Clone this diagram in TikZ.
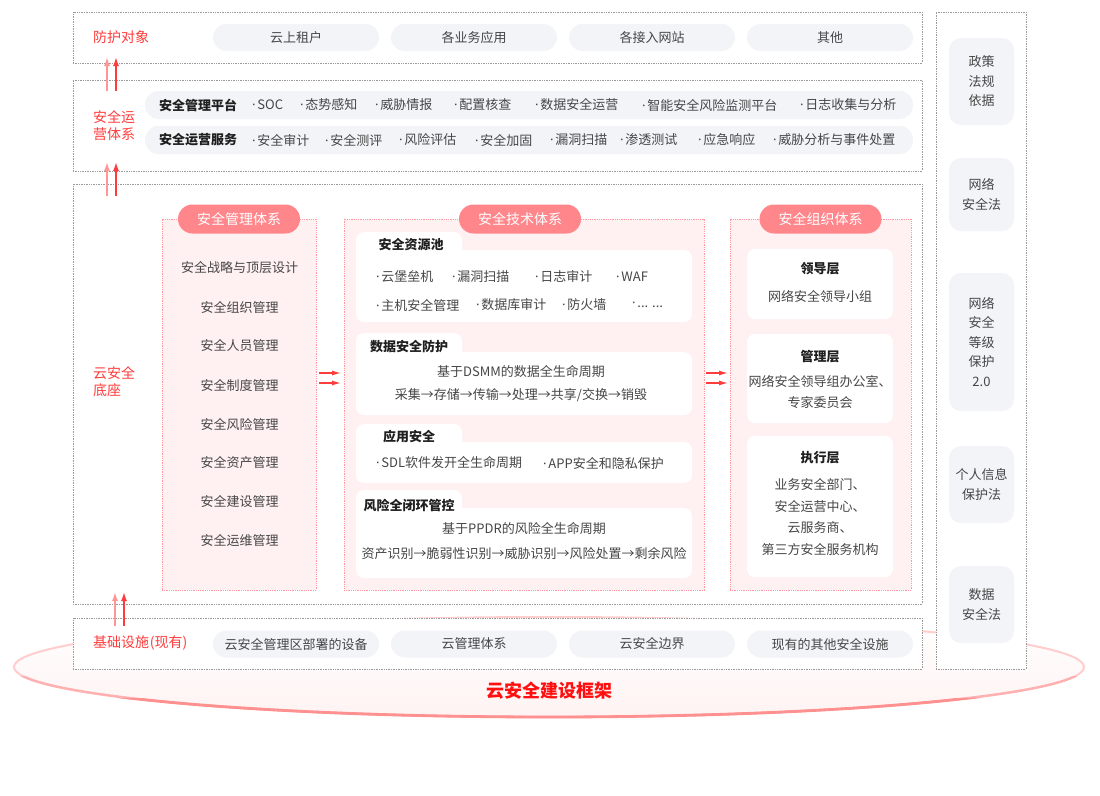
\documentclass[tikz,border=0pt]{standalone}
\usepackage{fontspec}
\setmainfont{Noto Sans CJK SC}
\newfontfamily\dotfont{Noto Sans}
\newcommand\itemdot{{\dotfont ·}\kern2pt}
\usetikzlibrary{calc,positioning,arrows.meta}
\definecolor{pillgray}{HTML}{F3F4F8}
\definecolor{itemgray}{HTML}{464646}
\definecolor{titleblack}{HTML}{1F1F1F}
\definecolor{layerred}{HTML}{FF3D3D}
\definecolor{titlered}{HTML}{FF1010}
\definecolor{headpink}{HTML}{FF878C}
\definecolor{panelpink}{HTML}{FFF0F1}
\definecolor{panelline}{HTML}{FF98A0}
\definecolor{arrowlight}{HTML}{FF9696}
\definecolor{arrowred}{HTML}{FF3B3B}
\definecolor{framegray}{HTML}{9A9A9A}
\definecolor{rimpink}{HTML}{FF9090}
\definecolor{rimfill}{HTML}{FFF3F3}

\begin{document}
\begin{tikzpicture}[x=1pt,y=-1pt,
  every node/.style={inner sep=0pt,outer sep=0pt,align=center,text=itemgray,font=\fontsize{13}{19.5}\selectfont},
  layer/.style={draw=framegray,densely dotted,line width=0.7pt,fill=white},
  layername/.style={text=layerred,align=left,font=\fontsize{14}{17}\selectfont},
  pill/.style={fill=pillgray,rounded corners=13.5,minimum width=166,minimum height=27},
  rowpill/.style={fill=pillgray,rounded corners=13.5,minimum width=768,minimum height=28},
  panel/.style={fill=panelpink,draw=panelline,densely dotted,line width=0.8pt},
  header/.style={fill=headpink,text=white,rounded corners=14.5,minimum width=122,minimum height=29,font=\fontsize{14}{17}\selectfont},
  card/.style={fill=white,rounded corners=8},
  cardtitle/.style={text=titleblack,font=\bfseries\fontsize{13}{16}\selectfont},
  lawpill/.style={fill=pillgray,rounded corners=12,minimum width=65},
  uparrow/.style={-{Latex[length=9pt,width=6pt]},line width=1.5pt},
  sidearrow/.style={-{Latex[length=9pt,width=5pt]},line width=1.2pt,arrowred}]
\useasboundingbox (0,0) rectangle (1100,795);

% base ring
\coordinate (RimCentre) at (549,667);
\fill[top color=white,bottom color=rimfill] (RimCentre) ellipse [x radius=535,y radius=50];
\draw[rimpink!45,line width=2pt] (RimCentre) ellipse [x radius=535,y radius=50];
\begin{scope}
\clip (0,676) rectangle (1100,795);
\draw[rimpink!70,line width=2.4pt] (RimCentre) ellipse [x radius=535,y radius=50];
\end{scope}
\begin{scope}
\clip (0,698) rectangle (1100,795);
\draw[rimpink,line width=2.8pt] (RimCentre) ellipse [x radius=535,y radius=50];
\end{scope}

% protected targets
\node[layer,anchor=north west,minimum width=849,minimum height=51] (Target) at (73,12) {};
\node[layername,anchor=west] (TargetName) at (93,37) {防护对象};
\node[pill] (TargetTenant) at (296,37.5) {云上租户};
\node[pill] (TargetApps) at (474,37.5) {各业务应用};
\node[pill] (TargetSites) at (652,37.5) {各接入网站};
\node[pill] (TargetOther) at (830,37.5) {其他};

% operations
\node[layer,anchor=north west,minimum width=849,minimum height=91] (Ops) at (73,80) {};
\node[layername,anchor=west] (OpsName) at (93,126) {安全运\\营体系};
\node[rowpill,anchor=west] (OpsPlatform) at (145,105) {};
\node[rowpill,anchor=west] (OpsService) at (145,140) {};
\node[cardtitle,anchor=west] (PlatformName) at (159,105) {安全管理平台};
\node[anchor=west] (PlatSOC) at (252,105) {\itemdot SOC};
\node[anchor=west] (PlatSituation) at (300,105) {\itemdot 态势感知};
\node[anchor=west] (PlatIntel) at (375,105) {\itemdot 威胁情报};
\node[anchor=west] (PlatConfig) at (454,105) {\itemdot 配置核查};
\node[anchor=west] (PlatData) at (535,105) {\itemdot 数据安全运营};
\node[anchor=west] (PlatRisk) at (642,105) {\itemdot 智能安全风险监测平台};
\node[anchor=west] (PlatLog) at (800,105) {\itemdot 日志收集与分析};
\node[cardtitle,anchor=west] (ServiceName) at (159,140) {安全运营服务};
\node[anchor=west] (ServAudit) at (252,140) {\itemdot 安全审计};
\node[anchor=west] (ServEval) at (325,140) {\itemdot 安全测评};
\node[anchor=west] (ServRisk) at (399,140) {\itemdot 风险评估};
\node[anchor=west] (ServHarden) at (475,140) {\itemdot 安全加固};
\node[anchor=west] (ServScan) at (550,140) {\itemdot 漏洞扫描};
\node[anchor=west] (ServPentest) at (620,140) {\itemdot 渗透测试};
\node[anchor=west] (ServResponse) at (698,140) {\itemdot 应急响应};
\node[anchor=west] (ServThreat) at (773,140) {\itemdot 威胁分析与事件处置};

% cloud security base
\node[layer,anchor=north west,minimum width=849,minimum height=420] (Base) at (73,184) {};
\node[layername,anchor=west] (BaseName) at (93,382) {云安全\\底座};

\node[panel,anchor=north west,minimum width=154,minimum height=371] (Mgmt) at (162,219) {};
\node[header] (MgmtHead) at (Mgmt.north) {安全管理体系};
\node (MgmtStrategy) at (239.5,268) {安全战略与顶层设计};
\node (MgmtOrg) at (239.5,307) {安全组织管理};
\node (MgmtStaff) at (239.5,346) {安全人员管理};
\node (MgmtRules) at (239.5,385) {安全制度管理};
\node (MgmtRisk) at (239.5,424) {安全风险管理};
\node (MgmtAsset) at (239.5,463) {安全资产管理};
\node (MgmtBuild) at (239.5,502) {安全建设管理};
\node (MgmtMaint) at (239.5,541) {安全运维管理};

\node[panel,anchor=north west,minimum width=360,minimum height=371] (Tech) at (344,219) {};
\node[header] (TechHead) at ($(Tech.north)+(-4,0)$) {安全技术体系};
\node[card,anchor=north west,minimum width=106,minimum height=30] (PoolTab) at (356,232) {};
\node[card,anchor=north west,minimum width=336,minimum height=72] (Pool) at (356,250) {};
\node[cardtitle] (PoolTitle) at (411,245) {安全资源池};
\node[anchor=west] (PoolBastion) at (376,277) {\itemdot 云堡垒机};
\node[anchor=west] (PoolScan) at (452,277) {\itemdot 漏洞扫描};
\node[anchor=west] (PoolLog) at (535,277) {\itemdot 日志审计};
\node[anchor=west] (PoolWaf) at (616,277) {\itemdot WAF};
\node[anchor=west] (PoolHost) at (376,305) {\itemdot 主机安全管理};
\node[anchor=west] (PoolDb) at (476,305) {\itemdot 数据库审计};
\node[anchor=west] (PoolFirewall) at (562,305) {\itemdot 防火墙};
\node[anchor=west] (PoolMore) at (632,305) {\itemdot ... ...};

\node[card,anchor=north west,minimum width=106,minimum height=30] (DataTab) at (356,333) {};
\node[card,anchor=north west,minimum width=336,minimum height=63] (Data) at (356,352) {};
\node[cardtitle] (DataTitle) at (409,347) {数据安全防护};
\node (DataModel) at (521,372) {基于DSMM的数据全生命周期};
\node (DataFlow) at (521,395) {采集→存储→传输→处理→共享/交换→销毁};

\node[card,anchor=north west,minimum width=106,minimum height=30] (AppTab) at (356,424) {};
\node[card,anchor=north west,minimum width=336,minimum height=41] (App) at (356,442) {};
\node[cardtitle] (AppTitle) at (409,437) {应用安全};
\node[anchor=west] (AppSdl) at (376,463) {\itemdot SDL软件发开全生命周期};
\node[anchor=west] (AppPrivacy) at (543,463) {\itemdot APP安全和隐私保护};

\node[card,anchor=north west,minimum width=106,minimum height=30] (LoopTab) at (356,490) {};
\node[card,anchor=north west,minimum width=336,minimum height=70] (Loop) at (356,508) {};
\node[cardtitle] (LoopTitle) at (409,506) {风险全闭环管控};
\node (LoopModel) at (524,529) {基于PPDR的风险全生命周期};
\node (LoopFlow) at (524,554) {资产识别→脆弱性识别→威胁识别→风险处置→剩余风险};

\node[panel,anchor=north west,minimum width=181,minimum height=371] (Org) at (730,219) {};
\node[header] (OrgHead) at (Org.north) {安全组织体系};
\node[card,anchor=north west,minimum width=146,minimum height=70] (Lead) at (747,249) {};
\node[cardtitle] (LeadTitle) at (820,269) {领导层};
\node (LeadText) at (820,296) {网络安全领导小组};
\node[card,anchor=north west,minimum width=146,minimum height=89] (Manage) at (747,334) {};
\node[cardtitle] (ManageTitle) at (820,357) {管理层};
\node[font=\fontsize{13}{21}\selectfont] (ManageText) at (820,392) {网络安全领导组办公室、\\专家委员会};
\node[card,anchor=north west,minimum width=146,minimum height=141] (Exec) at (747,436) {};
\node[cardtitle] (ExecTitle) at (820,458) {执行层};
\node[font=\fontsize{13}{21.5}\selectfont] (ExecText) at (820,517) {业务安全部门、\\安全运营中心、\\云服务商、\\第三方安全服务机构};

\draw[sidearrow] ($(Mgmt.east)+(3,-31.5)$) -- ($(Tech.west)+(-3,-31.5)$);
\draw[sidearrow] ($(Mgmt.east)+(3,-21.5)$) -- ($(Tech.west)+(-3,-21.5)$);
\draw[sidearrow] ($(Tech.east)+(2,-31.5)$) -- ($(Org.west)+(-2,-31.5)$);
\draw[sidearrow] ($(Tech.east)+(2,-21.5)$) -- ($(Org.west)+(-2,-21.5)$);

% infrastructure
\node[layer,anchor=north west,minimum width=849,minimum height=51] (Infra) at (73,618) {};
\node[layername,anchor=west] (InfraName) at (93,643) {基础设施\kern1pt(现有)};
\node[pill] (InfraDevices) at (296,644) {云安全管理区部署的设备};
\node[pill] (InfraMgmt) at (474,644) {云管理体系};
\node[pill] (InfraBorder) at (652,644) {云安全边界};
\node[pill] (InfraOther) at (830,644) {现有的其他安全设施};

\node[text=titlered,font=\bfseries\fontsize{18}{20}\selectfont] (FrameTitle) at (549,691) {云安全建设框架};

% arrows between layers
\draw[uparrow,arrowlight] ($(Ops.north west)+(34,11)$) -- ($(Target.south west)+(34,-6)$);
\draw[uparrow,arrowred] ($(Ops.north west)+(43,11)$) -- ($(Target.south west)+(43,-6)$);
\draw[uparrow,arrowlight] ($(Base.north west)+(34,12)$) -- ($(Ops.south west)+(34,-9)$);
\draw[uparrow,arrowred] ($(Base.north west)+(43,12)$) -- ($(Ops.south west)+(43,-9)$);
\draw[uparrow,arrowlight] ($(Infra.north west)+(42,8)$) -- ($(Base.south west)+(42,-12)$);
\draw[uparrow,arrowred] ($(Infra.north west)+(51,8)$) -- ($(Base.south west)+(51,-12)$);

% policies and laws
\node[layer,anchor=north west,minimum width=90,minimum height=657] (Laws) at (936,12) {};
\node[lawpill,minimum height=87] (LawPolicy) at (981.5,81.5) {政策\\法规\\依据};
\node[lawpill,minimum height=73] (LawNet) at (981.5,194.5) {网络\\安全法};
\node[lawpill,minimum height=138] (LawGrade) at (981.5,342) {网络\\安全\\等级\\保护\\2.0};
\node[lawpill,minimum height=77] (LawPrivacy) at (981.5,484.5) {个人信息\\保护法};
\node[lawpill,minimum height=77] (LawData) at (981.5,604.5) {数据\\安全法};
\end{tikzpicture}
\end{document}
